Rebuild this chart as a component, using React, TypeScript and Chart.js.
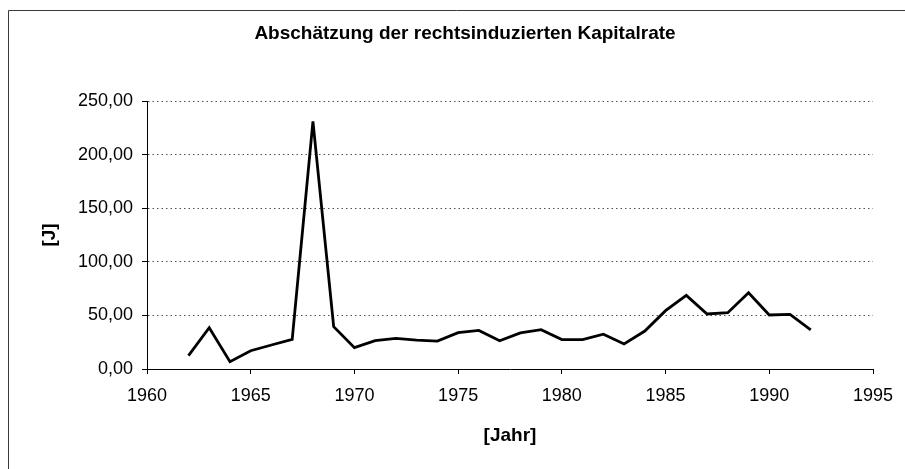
import React, { useEffect, useRef } from "react";
import { Chart, registerables } from "chart.js";

Chart.register(...registerables);

const TITLE = "Abschätzung der rechtsinduzierten Kapitalrate";
const X_TITLE = "[Jahr]";
const Y_TITLE = "[J]";

const years = [
  1962, 1963, 1964, 1965, 1966, 1967, 1968, 1969, 1970, 1971, 1972, 1973, 1974, 1975, 1976, 1977,
  1978, 1979, 1980, 1981, 1982, 1983, 1984, 1985, 1986, 1987, 1988, 1989, 1990, 1991, 1992,
];
const values = [
  12.4, 38.5, 6.8, 17.0, 22.4, 27.7, 231.0, 39.5, 19.9, 26.4, 28.6, 27.0, 26.0, 33.9, 36.0, 26.4,
  33.6, 36.7, 27.4, 27.4, 32.4, 23.3, 35.4, 54.4, 68.7, 51.3, 52.5, 71.2, 50.4, 51.0, 36.4,
];
const xTicks = { min: 1960, max: 1995, step: 5 };
const yTicks = { min: 0, max: 250, step: 50 };

const FONT = "'Liberation Sans', Arial, Helvetica, sans-serif";

const framePlugin = {
  id: "frame",
  beforeDraw(chart: any) {
    const ctx = chart.ctx;
    ctx.save();
    ctx.fillStyle = "#ffffff";
    ctx.fillRect(0, 0, chart.width, chart.height);
    ctx.strokeStyle = "#3a3a3a";
    ctx.lineWidth = 1;
    ctx.beginPath();
    ctx.moveTo(8.5, chart.height);
    ctx.lineTo(8.5, 10.5);
    ctx.lineTo(chart.width, 10.5);
    ctx.stroke();
    ctx.restore();
  },
};

export default function App() {
  const ref = useRef<HTMLCanvasElement | null>(null);

  useEffect(() => {
    if (!ref.current) return;
    const data = years.map((y, i) => ({ x: y, y: values[i] }));
    const chart = new Chart(ref.current, {
      type: "line",
      data: {
        datasets: [
          {
            data,
            borderColor: "#000000",
            borderWidth: 2.8,
            pointRadius: 0,
            tension: 0,
            fill: false,
          },
        ],
      },
      plugins: [framePlugin],
      options: {
        responsive: false,
        animation: false,
        events: [],
        layout: { padding: { top: 10, left: 57, right: 32, bottom: 0 } },
        plugins: {
          legend: { display: false },
          tooltip: { enabled: false },
          title: {
            display: true,
            text: TITLE,
            color: "#000000",
            font: { family: FONT, size: 19, weight: "bold" },
            padding: { top: 12, bottom: 56.2 },
          },
        },
        scales: {
          x: {
            type: "linear",
            min: xTicks.min,
            max: xTicks.max,
            afterFit(scale: any) {
              scale.height = 100;
            },
            ticks: {
              stepSize: xTicks.step,
              color: "#000000",
              padding: 11,
              maxRotation: 0,
              autoSkip: false,
              font: { family: FONT, size: 18 },
              callback: (v: any) => String(v),
            },
            grid: {
              drawOnChartArea: false,
              drawTicks: true,
              tickLength: 5,
              tickColor: "#000000",
              tickWidth: 1,
            },
            border: { display: true, color: "#000000", width: 1 },
            title: {
              display: true,
              text: X_TITLE,
              color: "#000000",
              font: { family: FONT, size: 19, weight: "bold" },
              padding: { top: 0, bottom: 21.6 },
            },
          },
          y: {
            type: "linear",
            min: yTicks.min,
            max: yTicks.max,
            afterFit(scale: any) {
              scale.width = 90;
            },
            ticks: {
              stepSize: yTicks.step,
              color: "#000000",
              padding: 9,
              font: { family: FONT, size: 18 },
              callback: (v: any) => Number(v).toFixed(2).replace(".", ","),
            },
            grid: {
              drawTicks: true,
              tickLength: 5,
              tickColor: "#000000",
              tickWidth: 1,
              tickBorderDash: [],
              lineWidth: 1,
              color: (c: any) => (c.tick && c.tick.value === 0 ? "rgba(0,0,0,0)" : "#505050"),
            },
            border: { display: true, color: "#000000", width: 1, dash: [1.5, 3] },
            title: {
              display: true,
              text: Y_TITLE,
              color: "#000000",
              font: { family: FONT, size: 19, weight: "bold" },
              padding: { top: -18.4, bottom: 0 },
            },
          },
        },
      },
    } as any);
    return () => chart.destroy();
  }, []);

  return (
    <div style={{ position: "absolute", left: 0, top: 0, width: 905, height: 469, background: "#fff" }}>
      <canvas ref={ref} width={905} height={469} style={{ display: "block", width: 905, height: 469 }} />
    </div>
  );
}
